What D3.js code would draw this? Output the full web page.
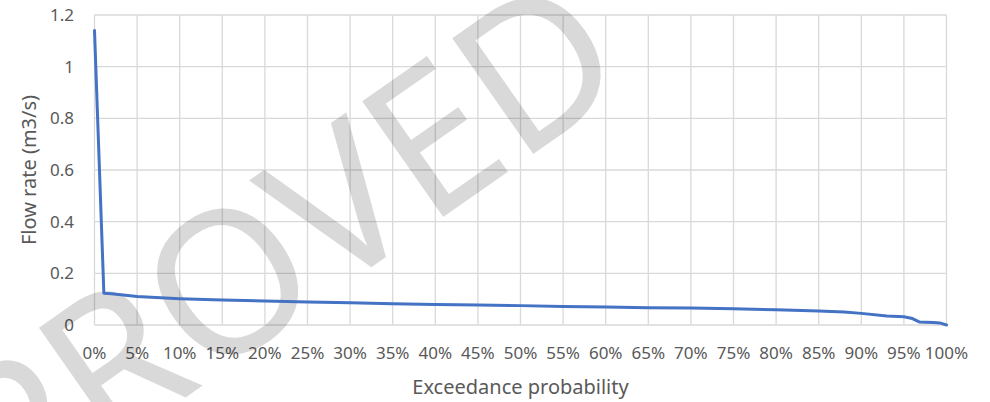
<!DOCTYPE html>
<html>
<head>
<meta charset="utf-8">
<script src="https://cdn.jsdelivr.net/npm/d3@7"></script>
<style>
  html, body { margin: 0; padding: 0; background: #fff; }
  svg { display: block; font-family: "Noto Sans", "Open Sans", sans-serif; }
</style>
</head>
<body>
<svg id="chart" width="990" height="402"></svg>
<script>
// Data
const exceedance = [0, 0.011, 0.02, 0.05, 0.10, 0.15, 0.20, 0.25, 0.30, 0.35, 0.40, 0.45, 0.50, 0.55, 0.60, 0.65, 0.70, 0.75, 0.80, 0.85, 0.88, 0.90, 0.93, 0.95, 0.96, 0.968, 0.975, 0.985, 0.992, 1.0];
const flowRate   = [1.14, 0.123, 0.121, 0.110, 0.102, 0.097, 0.093, 0.089, 0.086, 0.082, 0.079, 0.077, 0.075, 0.072, 0.070, 0.067, 0.066, 0.063, 0.059, 0.054, 0.050, 0.045, 0.035, 0.032, 0.025, 0.012, 0.011, 0.010, 0.008, 0.0];
const xTicks = [0, 0.05, 0.10, 0.15, 0.20, 0.25, 0.30, 0.35, 0.40, 0.45, 0.50, 0.55, 0.60, 0.65, 0.70, 0.75, 0.80, 0.85, 0.90, 0.95, 1.0];
const yTicks = [0, 0.2, 0.4, 0.6, 0.8, 1, 1.2];
const xTitle = "Exceedance probability";
const yTitle = "Flow rate (m3/s)";
const watermark = "APPROVED";

const svg = d3.select("#chart");
const plotLeft = 94.5, plotRight = 946.5, plotTop = 15, plotBottom = 325;

const x = d3.scaleLinear().domain([0, 1]).range([plotLeft, plotRight]);
const y = d3.scaleLinear().domain([0, 1.2]).range([plotBottom, plotTop]);

const grid = "#d9d9d9";
const textColor = "#595959";

// gridlines
svg.append("g").selectAll("line").data(xTicks).join("line")
  .attr("x1", d => x(d)).attr("x2", d => x(d))
  .attr("y1", plotTop).attr("y2", plotBottom)
  .attr("stroke", grid).attr("stroke-width", 1.3);
svg.append("g").selectAll("line").data(yTicks).join("line")
  .attr("x1", plotLeft).attr("x2", plotRight)
  .attr("y1", d => y(d)).attr("y2", d => y(d))
  .attr("stroke", grid).attr("stroke-width", 1.3);

// y tick labels
svg.append("g").selectAll("text").data(yTicks).join("text")
  .attr("x", 74).attr("y", d => y(d))
  .attr("dy", "0.35em")
  .attr("text-anchor", "end")
  .attr("font-size", 17).attr("fill", textColor)
  .text(d => d3.format("~g")(d));

// x tick labels
svg.append("g").selectAll("text").data(xTicks).join("text")
  .attr("x", d => x(d)).attr("y", 359)
  .attr("text-anchor", "middle")
  .attr("font-size", 17).attr("fill", textColor)
  .text(d => d3.format(".0%")(d));

// axis titles
svg.append("text")
  .attr("x", (plotLeft + plotRight) / 2).attr("y", 394)
  .attr("text-anchor", "middle")
  .attr("font-size", 20).attr("fill", textColor)
  .text(xTitle);
svg.append("text")
  .attr("transform", `translate(36,${(plotTop + plotBottom) / 2}) rotate(-90)`)
  .attr("text-anchor", "middle")
  .attr("font-size", 20).attr("fill", textColor)
  .text(yTitle);

// watermark
svg.append("text")
  .attr("transform", "translate(636,82) rotate(-35)")
  .attr("text-anchor", "end")
  .attr("font-size", 198)
  .attr("fill", "#000").attr("fill-opacity", 0.15)
  .text(watermark);

// data line
const line = d3.line().x((d, i) => x(exceedance[i])).y(d => y(d));
svg.append("path")
  .datum(flowRate)
  .attr("d", line)
  .attr("fill", "none")
  .attr("stroke", "#4472c4")
  .attr("stroke-width", 3)
  .attr("stroke-linejoin", "round")
  .attr("stroke-linecap", "round");
</script>
</body>
</html>
